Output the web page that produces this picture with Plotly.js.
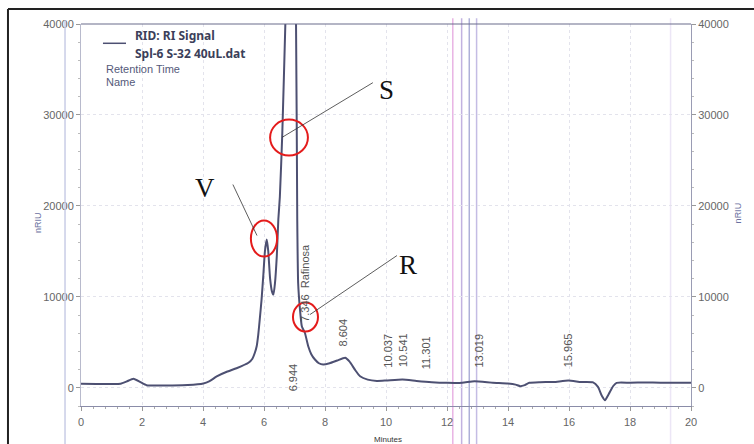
<!DOCTYPE html>
<html>
<head>
<meta charset="utf-8">
<script src="https://cdn.plot.ly/plotly-3.0.1.min.js"></script>
<style>html,body{margin:0;padding:0;background:#fff;}</style>
</head>
<body>
<div id="chart" style="width:754px;height:444px;"></div>
<script>
// Retention time (minutes) and RI signal (nRIU)
const time = [0, 0.5, 1.0, 1.3, 1.5, 1.72, 1.95, 2.15, 2.5, 3.0, 3.5, 4.01, 4.2, 4.45, 4.78, 5.1, 5.49, 5.62, 5.7, 5.76, 5.81, 5.86, 5.92, 5.98, 6.03, 6.09, 6.14, 6.2, 6.26, 6.31, 6.36, 6.42, 6.47, 6.52, 6.6, 6.7, 6.8, 6.88, 6.96, 7.05, 7.09, 7.12, 7.18, 7.24, 7.34, 7.45, 7.55, 7.67, 7.8, 7.94, 8.15, 8.4, 8.66, 8.8, 9.0, 9.15, 9.4, 9.7, 10.0, 10.54, 11.0, 11.5, 12.0, 12.5, 12.9, 13.5, 14.0, 14.25, 14.4, 14.55, 14.7, 15.05, 15.5, 15.98, 16.4, 16.79, 16.95, 17.08, 17.18, 17.3, 17.45, 17.56, 18.0, 18.5, 19.0, 19.5, 20.0];
const signal = [440, 430, 420, 450, 700, 990, 620, 290, 250, 260, 300, 470, 700, 1250, 1760, 2150, 2750, 3200, 3850, 4570, 5800, 7500, 9700, 12500, 15000, 16300, 15000, 12000, 10600, 10250, 11500, 14500, 18500, 21000, 28000, 40000, 52000, 58000, 52000, 40000, 18500, 11500, 8600, 6770, 6050, 4570, 3700, 3110, 2700, 2560, 2700, 3000, 3300, 2900, 1900, 1270, 900, 760, 800, 910, 760, 620, 550, 560, 730, 560, 470, 350, 180, 300, 550, 620, 640, 800, 640, 600, 100, -900, -1360, -700, 200, 550, 560, 580, 560, 560, 550];

// Peak labels
const peakTimes = [6.944, 7.346, 8.604, 10.037, 10.541, 11.301, 13.019, 15.965];
const peakLabels = ["6.944", "7.346  Rafinosa", "8.604", "10.037", "10.541", "11.301", "13.019", "15.965"];
const peakLabelY = [1130, 11540, 6130, 4100, 4100, 3880, 4100, 4120];

// Vertical marker lines (minutes) and colours
const markerTimes = [12.19, 12.48, 12.73, 12.97, 19.33];
const markerColors = ["#e9b4e4", "#c2b2e0", "#aeb0d8", "#c4bce4", "#ece6f6"];

const xTicks = [0, 2, 4, 6, 8, 10, 12, 14, 16, 18, 20];
const yTicks = [0, 10000, 20000, 30000, 40000];

const lineColor = "#4d5072";
const tickFont = {family: "Liberation Sans, Arial, sans-serif", size: 11, color: "#666"};

const traces = [
  {x: time, y: signal, type: "scatter", mode: "lines",
   line: {color: lineColor, width: 2, shape: "spline", smoothing: 0.5},
   hoverinfo: "skip", showlegend: false},
  {x: time, y: signal, type: "scatter", mode: "lines", yaxis: "y2",
   line: {color: "rgba(0,0,0,0)", width: 0}, hoverinfo: "skip", showlegend: false}
];

const shapes = [];
markerTimes.forEach((t, i) => {
  shapes.push({type: "line", xref: "x", yref: "paper", x0: t, x1: t, y0: -0.11, y1: 1.015,
    line: {color: markerColors[i], width: 1.5}, layer: "below"});
});
// page decorations
shapes.push({type: "line", xref: "paper", yref: "paper", x0: -0.0262, x1: -0.0262, y0: -0.11, y1: 1.01,
  line: {color: "#c9cde6", width: 1.5}});
shapes.push({type: "line", xref: "paper", yref: "paper", x0: -0.1197, x1: -0.1197, y0: -0.11, y1: 1.039,
  line: {color: "#222", width: 2}});
shapes.push({type: "line", xref: "paper", yref: "paper", x0: -0.1197, x1: 1.11, y0: 1.039, y1: 1.039,
  line: {color: "#222", width: 2}});
// legend sample line
shapes.push({type: "line", xref: "paper", yref: "paper", x0: 0.036, x1: 0.0738, y0: 0.9495, y1: 0.9495,
  line: {color: lineColor, width: 1.5}});
// red circles
const circles = [[6.20, 7.44, 25530, 29490], [5.57, 6.43, 14430, 18390], [6.95, 7.77, 6190, 9370]];
circles.forEach(c => shapes.push({type: "circle", xref: "x", yref: "y", x0: c[0], x1: c[1], y0: c[2], y1: c[3],
  line: {color: "#e41b1b", width: 2}}));
// pointer lines
const pointers = [[6.59, 27530, 9.57, 33550], [4.98, 22350, 5.77, 16740], [7.51, 8060, 10.36, 14540]];
pointers.forEach(p => shapes.push({type: "line", xref: "x", yref: "y", x0: p[0], y0: p[1], x1: p[2], y1: p[3],
  line: {color: "#333", width: 0.8}}));
// top frame line
shapes.push({type: "line", xref: "paper", yref: "paper", x0: 0, x1: 1, y0: 1, y1: 1,
  line: {color: "#6a6d8c", width: 1.2}});

const annotations = [];
peakTimes.forEach((t, i) => {
  annotations.push({x: t, y: peakLabelY[i], xref: "x", yref: "y", text: peakLabels[i], textangle: -90,
    showarrow: false, xanchor: "center", yanchor: "middle",
    font: {family: "Liberation Sans, Arial, sans-serif", size: 11, color: "#555"}});
});
const bigFont = {family: "Liberation Serif, Times New Roman, serif", size: 27, color: "#111"};
annotations.push({x: 10.0, y: 32780, xref: "x", yref: "y", text: "S", showarrow: false, font: bigFont});
annotations.push({x: 4.07, y: 22010, xref: "x", yref: "y", text: "V", showarrow: false, font: bigFont});
annotations.push({x: 10.72, y: 13550, xref: "x", yref: "y", text: "R", showarrow: false, font: bigFont});

const legFont = {family: "Noto Sans, Open Sans, sans-serif", size: 12, color: "#3c3f5a"};
annotations.push({x: 0.085, y: 0.9686, xref: "paper", yref: "paper", xanchor: "left", yanchor: "middle",
  text: "<b>RID: RI Signal</b>", showarrow: false, font: legFont});
annotations.push({x: 0.085, y: 0.924, xref: "paper", yref: "paper", xanchor: "left", yanchor: "middle",
  text: "<b>Spl-6 S-32 40uL.dat</b>", showarrow: false, font: legFont});
const subFont = {family: "Liberation Sans, Arial, sans-serif", size: 11, color: "#555a7a"};
annotations.push({x: 0.0377, y: 0.882, xref: "paper", yref: "paper", xanchor: "left", yanchor: "middle",
  text: "Retention Time", showarrow: false, font: subFont});
annotations.push({x: 0.0377, y: 0.848, xref: "paper", yref: "paper", xanchor: "left", yanchor: "middle",
  text: "Name", showarrow: false, font: subFont});
// axis titles
const axFont = {family: "Liberation Sans, Arial, sans-serif", size: 9, color: "#6a70a0"};
annotations.push({x: -0.083, y: 0.48, xref: "paper", yref: "paper", text: "nRIU", textangle: -90,
  showarrow: false, font: axFont});
annotations.push({x: 1.089, y: 0.505, xref: "paper", yref: "paper", text: "nRIU", textangle: -90,
  showarrow: false, font: axFont});
annotations.push({x: 0.503, y: -0.088, xref: "paper", yref: "paper", text: "Minutes", yanchor: "middle",
  showarrow: false, font: {family: "Liberation Sans, Arial, sans-serif", size: 8, color: "#333"}});

const layout = {
  width: 754, height: 444,
  margin: {l: 81, r: 63, t: 24, b: 38, pad: 0},
  paper_bgcolor: "#fff", plot_bgcolor: "#fff",
  showlegend: false,
  xaxis: {range: [0, 20], tickvals: xTicks, ticktext: xTicks.map(String), tickfont: tickFont,
    showgrid: true, gridcolor: "#e3e3ec", griddash: "dot", gridwidth: 1,
    zeroline: false, showline: true, linecolor: "#8a8ca8", linewidth: 1, mirror: false,
    ticks: "outside", ticklen: 4, tickcolor: "#999", ticklabelstandoff: 2,
    minor: {dtick: 0.4, ticks: "outside", ticklen: 2, tickcolor: "#aaa", showgrid: false}},
  yaxis: {range: [-2000, 40000], tickvals: yTicks, ticktext: yTicks.map(String), tickfont: tickFont,
    showgrid: true, gridcolor: "#e3e3ec", griddash: "dot", gridwidth: 1,
    zeroline: false, showline: true, linecolor: "#b8bacc", linewidth: 1,
    ticks: "outside", ticklen: 4, tickcolor: "#999",
    minor: {dtick: 2000, ticks: "outside", ticklen: 2, tickcolor: "#bbb", showgrid: false}},
  yaxis2: {range: [-2000, 40000], overlaying: "y", side: "right", anchor: "x",
    tickvals: yTicks, ticktext: yTicks.map(String), tickfont: tickFont,
    showgrid: false, zeroline: false, showline: true, linecolor: "#9a9cb4", linewidth: 1,
    ticks: "outside", ticklen: 4, tickcolor: "#999",
    minor: {dtick: 2000, ticks: "outside", ticklen: 2, tickcolor: "#bbb"}},
  shapes: shapes,
  annotations: annotations
};

Plotly.newPlot("chart", traces, layout, {staticPlot: true, displayModeBar: false});
</script>
</body>
</html>
